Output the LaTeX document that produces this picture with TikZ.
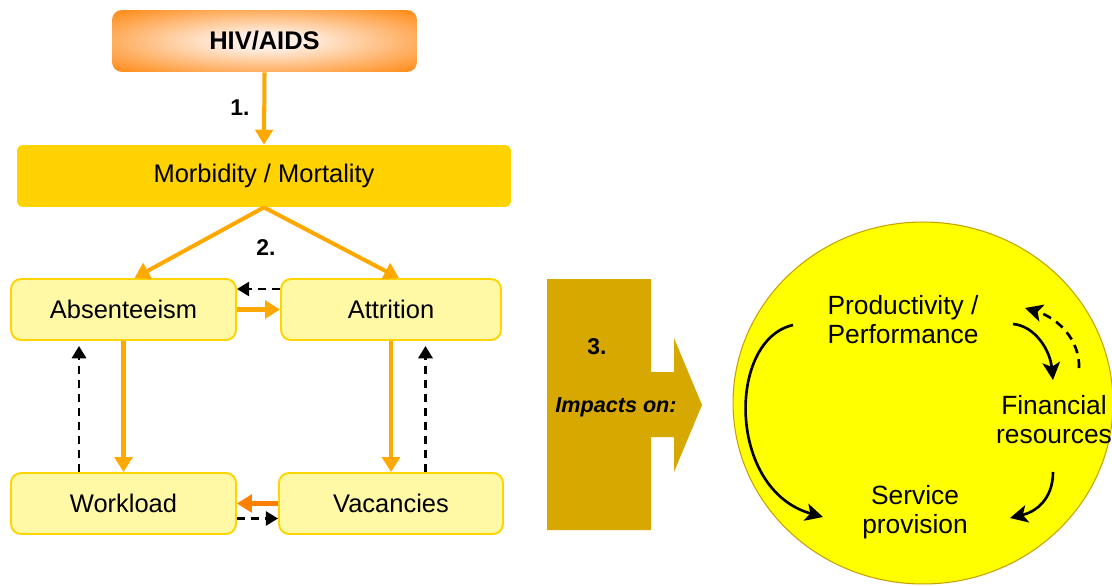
\documentclass[tikz,border=0pt]{standalone}
\usepackage{fontspec}
\setmainfont{Liberation Sans}
\usetikzlibrary{arrows.meta,positioning}

\definecolor{hivorange}{HTML}{FF7F00}
\definecolor{hivlight}{HTML}{FFF0E6}
\definecolor{morbgold}{HTML}{FFD200}
\definecolor{boxfill}{HTML}{FFF9A6}
\definecolor{boxline}{HTML}{FFD400}
\definecolor{flowora}{HTML}{FFA800}
\definecolor{darkora}{HTML}{FF7F00}
\definecolor{impactgold}{HTML}{D6A800}
\definecolor{sunyellow}{HTML}{FFFF00}
\definecolor{sunline}{HTML}{C8A000}

\pgfdeclareradialshading{hivshade}{\pgfpoint{0bp}{0bp}}{color(0bp)=(hivlight); color(6bp)=(hivlight); color(38bp)=(hivorange); color(50bp)=(hivorange)}

\tikzset{
  factor/.style={draw=boxline, line width=1.1pt, fill=boxfill, rounded corners=0.2cm,
    minimum height=1.22cm, font=\fontsize{14.5}{17}\selectfont},
  flow/.style={draw=flowora, line width=2.3pt, -{Triangle[width=10pt,length=8.5pt]}},
  back/.style={draw=black, line width=1.6pt, dash pattern=on 4.5pt off 3.5pt,
    -{Triangle[width=8pt,length=7pt]}},
  cycle/.style={line width=1.5pt, -{Stealth[width=10pt,length=10pt,inset=2.5pt]}},
  steplabel/.style={font=\fontsize{13}{15}\selectfont\bfseries},
  impact/.style={align=center, font=\fontsize{15}{16.5}\selectfont},
}

\begin{document}
\begin{tikzpicture}[x=0.02cm, y=-0.02cm]
    \useasboundingbox (0,0) rectangle (1112,585);

    % cause and first effect
    \node[shading=hivshade, rounded corners=0.2cm, minimum width=6.1cm, minimum height=1.24cm,
        font=\fontsize{14.5}{17}\selectfont\bfseries] (hiv) at (264.5,41) {HIV/AIDS};
    \node[fill=morbgold, rounded corners=0.12cm, minimum width=9.88cm, minimum height=1.24cm,
        font=\fontsize{14.5}{17}\selectfont] (morb) at (264,176) {Morbidity / Mortality};
    \draw[flow] (hiv.south) -- (morb.north);
\node[steplabel] (one) at (240,108) {1.};

    % the four staff factors
    \node[factor, minimum width=4.5cm] (abs) at (123.5,309.5) {Absenteeism};
    \node[factor, minimum width=4.4cm] (attr) at (391,309.5) {Attrition};
    \node[factor, minimum width=4.5cm] (work) at (123.5,503.5) {Workload};
    \node[factor, minimum width=4.48cm] (vac) at (391,503.5) {Vacancies};

    \draw[flow] (morb.south) -- ([xshift=0.22cm]abs.north);
    \draw[flow] (morb.south) -- ([xshift=0.16cm]attr.north);
\node[steplabel] (two) at (266,248) {2.};

    \draw[flow] (abs.east) -- (attr.west);
    \draw[back] ([yshift=0.41cm]attr.west) -- ([yshift=0.41cm]abs.east);
    \draw[flow] (abs.south) -- (work.north);
    \draw[back, shorten >=0.1cm] ([xshift=-0.89cm]work.north) -- ([xshift=-0.89cm]abs.south);
    \draw[flow] (attr.south) -- (vac.north);
    \draw[back, shorten >=0.1cm] ([xshift=0.69cm]vac.north) -- ([xshift=0.69cm]attr.south);
    \draw[flow, draw=darkora] (vac.west) -- (work.east);
    \draw[back] ([yshift=-0.3cm]work.east) -- ([yshift=-0.3cm]vac.west);

    % big arrow
    \fill[impactgold] (547,279) -- (651,279) -- (651,372) -- (674,372) -- (674,338) -- (702,405)
        -- (674,472) -- (674,437) -- (651,437) -- (651,530) -- (547,530) -- cycle;
\node[steplabel] (three) at (597,347) {3.};
\node[font=\fontsize{12.3}{14}\selectfont\bfseries\itshape] (impacts) at (616,407) {Impacts on:};

    % circle of impacts
    \draw[fill=sunyellow, draw=sunline, line width=0.6pt] (923,403) ellipse [x radius=3.8cm, y radius=3.62cm];
    \node[impact] (prod) at (903,320) {Productivity /\\Performance};
    \node[impact] (fin) at (1054,420) {Financial\\resources};
    \node[impact] (serv) at (915,512) {Service\\provision};

    \draw[cycle] ([shift={(-110,5)}]prod.center) .. controls (727,340) and (727,490) .. ([shift={(-92,5)}]serv.center);
    \draw[cycle] ([shift={(110,4)}]prod.center) .. controls (1035,326) and (1050,350) .. ([shift={(-1,-40)}]fin.center);
    \draw[cycle, dash pattern=on 5pt off 3.5pt] ([shift={(25,-52)}]fin.center) .. controls (1080,340) and (1058,318) .. ([shift={(122,-12)}]prod.center);
    \draw[cycle] ([shift={(-1,52)}]fin.center) .. controls (1053,500) and (1035,512) .. ([shift={(95,6)}]serv.center);
\end{tikzpicture}
\end{document}
